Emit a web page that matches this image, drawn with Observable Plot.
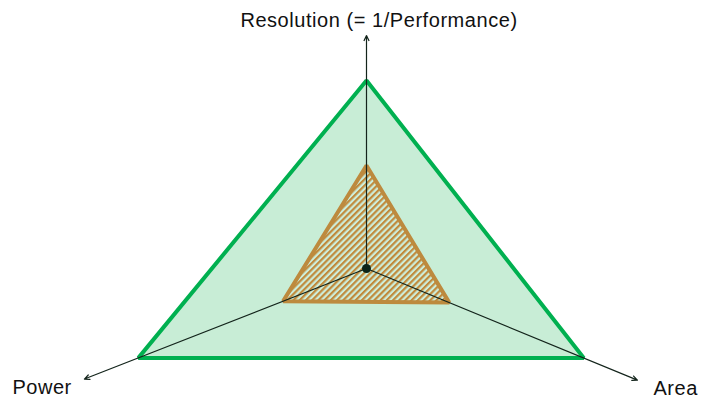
<!DOCTYPE html>
<html>
<head>
<meta charset="utf-8">
<script src="https://cdn.jsdelivr.net/npm/d3@7"></script>
<script src="https://cdn.jsdelivr.net/npm/@observablehq/plot@0.6"></script>
<style>
  html, body { margin: 0; padding: 0; background: #fff; }
  #chart svg { display: block; }
</style>
</head>
<body>
<div id="chart"></div>
<script>
// Radar axes: name, direction (degrees, counter-clockwise from east) and drawn length
const axes = ["Resolution (= 1/Performance)", "Power", "Area"];
const axisAngle = [90, 201.4, 337.6];
const axisLength = [233, 303, 293];

// Two profiles plotted on the three axes
const outerValues = [188, 245, 235];
const innerValues = [103, 89.5, 89.5];

// Label placement relative to each axis tip
const labelAnchor = ["middle", "start", "start"];
const labelDx = [12.5, -72, 16];
const labelDy = [-14.6, 9, 8];

const rad = d => d * Math.PI / 180;
const px = (r, a) => r * Math.cos(rad(a));
const py = (r, a) => r * Math.sin(rad(a));

const axisRows = axes.map((name, i) => ({
  name,
  x2: px(axisLength[i], axisAngle[i]),
  y2: py(axisLength[i], axisAngle[i]),
  anchor: labelAnchor[i], dx: labelDx[i], dy: labelDy[i]
}));

const polygon = (values, series) =>
  values.map((v, i) => ({series, x: px(v, axisAngle[i]), y: py(v, axisAngle[i])}));
const outer = polygon(outerValues, "outer");
const inner = polygon(innerValues, "inner");

const font = "'Liberation Sans', Arial, Helvetica, sans-serif";

const chart = Plot.plot({
  width: 703,
  height: 399,
  margin: 0,
  x: {domain: [-366, 337], axis: null},
  y: {domain: [-131, 268], axis: null},
  style: {fontFamily: font, background: "#fff"},
  marks: [
    Plot.line(outer, {x: "x", y: "y", curve: "linear-closed",
      fill: "#c8edd6", stroke: "#00b050", strokeWidth: 4, strokeLinejoin: "miter"}),
    Plot.line(inner, {x: "x", y: "y", curve: "linear-closed",
      fill: "url(#hatch)", stroke: "#bd8a3e", strokeWidth: 4, strokeLinejoin: "miter"}),
    Plot.arrow(axisRows, {x1: 0, y1: 0, x2: "x2", y2: "y2",
      stroke: "#13241b", strokeWidth: 1.2, headLength: 7, headAngle: 50}),
    Plot.dot([{x: 0, y: 0}], {x: "x", y: "y", r: 4.5, fill: "#0b2418", stroke: null}),
    ...axisRows.map(d => Plot.text([d], {x: "x2", y: "y2", text: "name",
      textAnchor: d.anchor, dx: d.dx, dy: d.dy, fontSize: 20, fill: "#111"}))
  ]
});

// Slightly open letter spacing for the axis names
d3.select(chart).selectAll("text").style("letter-spacing", "0.55px");

// Diagonal hatching used to fill the inner profile
const defs = d3.select(chart).insert("defs", ":first-child");
const pat = defs.append("pattern")
  .attr("id", "hatch")
  .attr("patternUnits", "userSpaceOnUse")
  .attr("width", 4.4).attr("height", 4.4)
  .attr("patternTransform", "rotate(45)");
pat.append("rect").attr("width", 4.4).attr("height", 4.4).attr("fill", "#cdeedb");
pat.append("rect").attr("width", 2.2).attr("height", 4.4).attr("fill", "#c08a3c");

document.getElementById("chart").appendChild(chart);
</script>
</body>
</html>
